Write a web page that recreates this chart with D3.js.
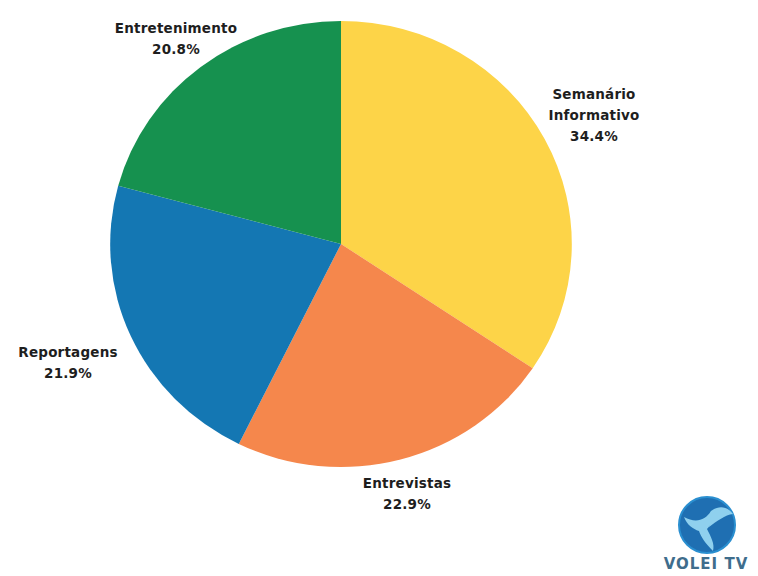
<!DOCTYPE html>
<html><head><meta charset="utf-8">
<script src="https://cdn.jsdelivr.net/npm/d3@7"></script>
<style>html,body{margin:0;padding:0;background:#fff;}svg{display:block;}</style>
</head><body>
<svg id="chart" width="758" height="576"></svg>
<script>
const categories = ["Semanário Informativo", "Entrevistas", "Reportagens", "Entretenimento"];
const labelLines = [["Semanário", "Informativo"], ["Entrevistas"], ["Reportagens"], ["Entretenimento"]];
const values = [34.4, 22.9, 21.9, 20.8];
const colors = ["#FDD448", "#F5874C", "#1477B3", "#16914F"];

const svg = d3.select("#chart");
const cx = 341, cy = 244, r = 223;
const g = svg.append("g").attr("transform", `translate(${cx},${cy}) scale(1.035,1)`);

const pie = d3.pie().sort(null).value(d => d);
const arcs = pie(values);
const arc = d3.arc().innerRadius(0).outerRadius(r);

g.selectAll("path").data(arcs).enter().append("path")
  .attr("d", arc)
  .attr("fill", (d, i) => colors[i]);

const lg = svg.append("g").attr("transform", `translate(${cx},${cy})`);
const manual = [[253, -145], [66, 244], [-273, 113], [-165, -211]];
arcs.forEach((d, i) => {
  const [x, y] = manual[i];
  const t = lg.append("text")
    .attr("x", x).attr("y", y)
    .attr("text-anchor", "middle")
    .style("font-family", "'DejaVu Sans', sans-serif")
    .style("font-weight", "bold")
    .style("font-size", "13.5px")
    .style("letter-spacing", "0.2px")
    .attr("fill", "#1e1e1e");
  const lines = labelLines[i].concat([values[i].toFixed(1) + "%"]);
  lines.forEach((ln, j) => {
    t.append("tspan").attr("x", x).attr("dy", j === 0 ? 0 : 21).text(ln);
  });
});

// logo
const logo = svg.append("g").attr("transform", "translate(707,525)");
logo.append("circle").attr("r", 28).attr("fill", "#1f6fb2");
logo.append("circle").attr("r", 28).attr("fill", "none").attr("stroke", "#2a8fd0").attr("stroke-width", 2);
logo.append("path")
  .attr("d", "M-23,-8 C-12,-2 -2,-4 4,-14 C6,-6 4,0 0,4 C4,12 8,19 6,26 C-2,18 -6,12 -8,6 C-14,4 -20,0 -23,-8 Z")
  .attr("fill", "#8fd0ee");
logo.append("path")
  .attr("d", "M4,-14 C12,-20 20,-19 26,-11 C18,-10 10,-4 2,2 Z")
  .attr("fill", "#8fd0ee");
svg.append("text").attr("x", 706).attr("y", 569)
  .attr("text-anchor", "middle")
  .style("font-family", "'DejaVu Sans', sans-serif").style("font-weight", "bold")
  .style("font-size", "15px").style("letter-spacing", "1px").attr("fill", "#3f6d8c").text("VOLEI TV");
</script>
</body></html>
